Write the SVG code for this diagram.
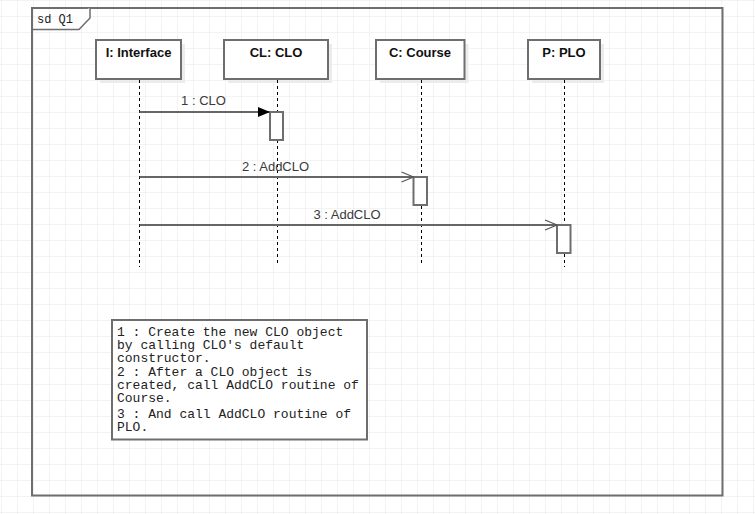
<svg xmlns="http://www.w3.org/2000/svg" width="755" height="514" viewBox="0 0 755 514">
  <defs>
    <pattern id="grid" x="1" y="0" width="16" height="16" patternUnits="userSpaceOnUse">
      <path d="M0 0H16M0 0V16" fill="none" stroke="#e8e8e8" stroke-width="1"/>
    </pattern>
    <marker id="filled" viewBox="0 0 12 10" refX="12" refY="5" markerWidth="12" markerHeight="10" markerUnits="userSpaceOnUse" orient="auto">
      <path d="M0 0L12 5L0 10Z" fill="#000"/>
    </marker>
    <marker id="open" viewBox="0 0 14 12" refX="13" refY="6" markerWidth="14" markerHeight="12" markerUnits="userSpaceOnUse" orient="auto">
      <path d="M1 1L13 6L1 11" fill="none" stroke="#555" stroke-width="1.2"/>
    </marker>
  </defs>
  <style>
    .frame { fill: none; stroke: #6e6e6e; stroke-width: 2; }
    .head { fill: #fff; stroke: #6e6e6e; stroke-width: 2; }
    .shadow { fill: #ececec; }
    .title { font-family: "Liberation Sans", Arial, sans-serif; font-size: 13px; font-weight: bold; fill: #111; text-anchor: middle; }
    .life { stroke: #000; stroke-width: 1; stroke-dasharray: 3 3; }
    .act { fill: #fff; stroke: #6e6e6e; stroke-width: 2; }
    .msg { stroke: #666; stroke-width: 2; fill: none; }
    .lbl { font-family: "Liberation Sans", Arial, sans-serif; font-size: 13px; fill: #3a3a3a; text-anchor: middle; }
    .mono { font-family: "Liberation Mono", "Courier New", monospace; font-size: 13px; fill: #222; }
  </style>

  <rect width="755" height="514" fill="#fff"/>
  <rect width="755" height="514" fill="url(#grid)"/>

  <!-- interaction frame -->
  <g id="frame">
    <rect class="frame" x="32" y="8" width="690.5" height="487.5"/>
    <path d="M32 29.5H79L90 18V8" fill="#fff" stroke="#6e6e6e" stroke-width="1.5"/>
    <text x="37" y="23" style="font-family:'Liberation Mono','Courier New',monospace;font-size:12px;fill:#222">sd Q1</text>
  </g>

  <!-- lifelines -->
  <g id="interface">
    <rect class="shadow" x="100" y="44" width="85" height="39"/>
    <rect class="head" x="96" y="40" width="85" height="39"/>
    <text class="title" x="138.5" y="57">I: Interface</text>
    <line class="life" x1="139.5" y1="80" x2="139.5" y2="267"/>
  </g>
  <g id="clo">
    <rect class="shadow" x="228" y="44" width="104" height="39"/>
    <rect class="head" x="224" y="40" width="104" height="39"/>
    <text class="title" x="276" y="57">CL: CLO</text>
    <line class="life" x1="277.5" y1="80" x2="277.5" y2="263"/>
    <rect class="act" x="270" y="112" width="13" height="28"/>
  </g>
  <g id="course">
    <rect class="shadow" x="380" y="44" width="88.5" height="39"/>
    <rect class="head" x="376" y="40" width="88.5" height="39"/>
    <text class="title" x="420" y="57">C: Course</text>
    <line class="life" x1="421.5" y1="80" x2="421.5" y2="263"/>
    <rect class="act" x="413.5" y="177" width="13.5" height="28"/>
  </g>
  <g id="plo">
    <rect class="shadow" x="532" y="44" width="72" height="39"/>
    <rect class="head" x="528" y="40" width="72" height="39"/>
    <text class="title" x="564" y="57">P: PLO</text>
    <line class="life" x1="564.5" y1="80" x2="564.5" y2="267"/>
    <rect class="act" x="557" y="225" width="13.5" height="28"/>
  </g>

  <!-- messages -->
  <g id="messages">
    <line class="msg" x1="139.5" y1="112" x2="270" y2="112" marker-end="url(#filled)"/>
    <text class="lbl" x="203.5" y="105">1 : CLO</text>
    <line class="msg" x1="139.5" y1="177" x2="413.5" y2="177" marker-end="url(#open)"/>
    <text class="lbl" x="275.5" y="171">2 : AddCLO</text>
    <line class="msg" x1="139.5" y1="225" x2="557" y2="225" marker-end="url(#open)"/>
    <text class="lbl" x="347" y="218.5">3 : AddCLO</text>
  </g>

  <!-- note -->
  <g id="note">
    <rect x="112" y="320" width="255" height="119.5" fill="#fff" stroke="#6e6e6e" stroke-width="2"/>
    <text class="mono">
      <tspan x="117" y="336">1 : Create the new CLO object</tspan>
      <tspan x="117" y="349">by calling CLO's default</tspan>
      <tspan x="117" y="362">constructor.</tspan>
      <tspan x="117" y="376">2 : After a CLO object is</tspan>
      <tspan x="117" y="389">created, call AddCLO routine of</tspan>
      <tspan x="117" y="402">Course.</tspan>
      <tspan x="117" y="418">3 : And call AddCLO routine of</tspan>
      <tspan x="117" y="431">PLO.</tspan>
    </text>
  </g>
</svg>
